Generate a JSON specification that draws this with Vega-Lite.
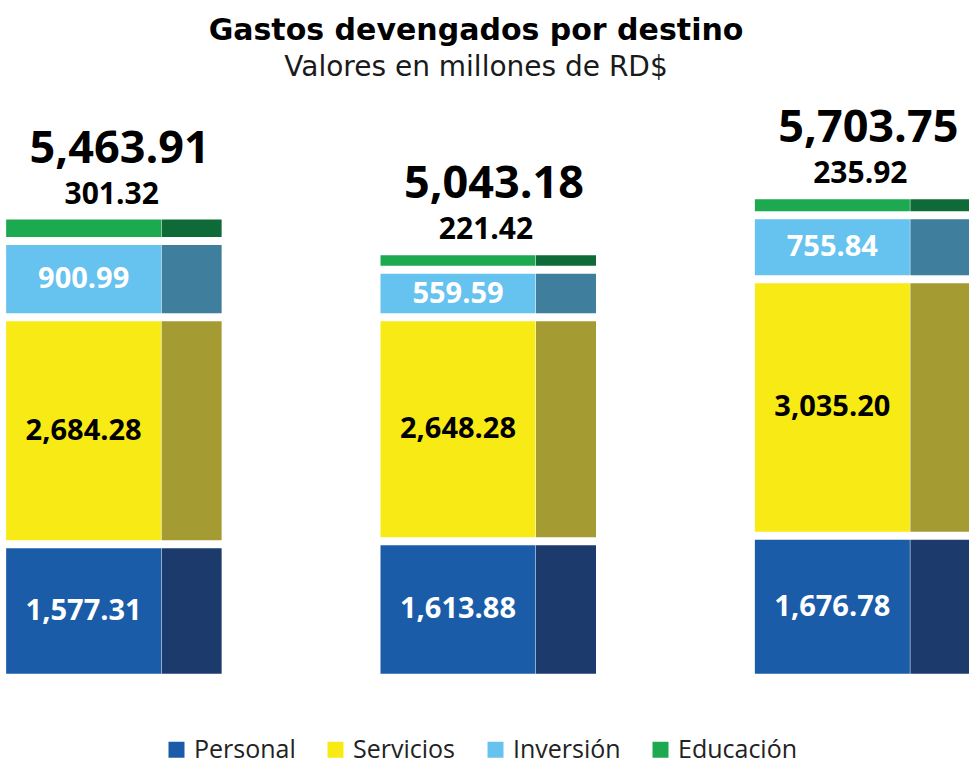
{
  "$schema": "https://vega.github.io/schema/vega-lite/v6.json",
  "autosize": {"type": "fit", "contains": "padding"},
  "width": 969,
  "height": 764,
  "padding": {"left": 0, "right": 0, "top": 16, "bottom": 2},
  "background": "white",
  "config": {"view": {"stroke": null}},
  "title": {
    "text": "Gastos devengados por destino",
    "subtitle": "Valores en millones de RD$",
    "anchor": "middle",
    "font": "DejaVu Sans",
    "fontSize": 30,
    "fontWeight": "bold",
    "color": "#000000",
    "subtitleFont": "DejaVu Sans",
    "subtitleFontSize": 28,
    "subtitleColor": "#1a1a1a",
    "subtitlePadding": 8,
    "offset": 4
  },
  "data": {
    "values": [
      {"col": "1", "cat": "Personal", "o": 1, "value": 1577.31},
      {"col": "1", "cat": "Servicios", "o": 2, "value": 2684.28},
      {"col": "1", "cat": "Inversión", "o": 3, "value": 900.99},
      {"col": "1", "cat": "Educación", "o": 4, "value": 301.32, "total": 5463.91},
      {"col": "2", "cat": "Personal", "o": 1, "value": 1613.88},
      {"col": "2", "cat": "Servicios", "o": 2, "value": 2648.28},
      {"col": "2", "cat": "Inversión", "o": 3, "value": 559.59},
      {"col": "2", "cat": "Educación", "o": 4, "value": 221.42, "total": 5043.18},
      {"col": "3", "cat": "Personal", "o": 1, "value": 1676.78},
      {"col": "3", "cat": "Servicios", "o": 2, "value": 3035.20},
      {"col": "3", "cat": "Inversión", "o": 3, "value": 755.84},
      {"col": "3", "cat": "Educación", "o": 4, "value": 235.92, "total": 5703.75}
    ]
  },
  "transform": [
    {"stack": "value", "groupby": ["col"], "sort": [{"field": "o", "order": "ascending"}], "as": ["y0", "y1"]},
    {"calculate": "(datum.y0 + datum.y1) / 2", "as": "ymid"}
  ],
  "encoding": {
    "x": {"field": "col", "type": "nominal", "axis": null, "scale": {"paddingInner": 0.457, "paddingOuter": 0}}
  },
  "resolve": {"scale": {"color": "independent"}},
  "layer": [
    {
      "mark": {"type": "bar", "width": 60, "xOffset": 90, "y2Offset": -8},
      "encoding": {
        "y": {"field": "y1", "type": "quantitative", "axis": null, "scale": {"domain": [-950, 7043], "nice": false}},
        "y2": {"field": "y0"},
        "color": {
          "field": "cat", "type": "nominal", "legend": null,
          "scale": {"domain": ["Personal", "Servicios", "Inversión", "Educación"], "range": ["#1c3a6c", "#a59b33", "#3f7e9c", "#0e6a36"]}
        }
      }
    },
    {
      "mark": {"type": "bar", "width": 155, "xOffset": -18, "y2Offset": -8},
      "encoding": {
        "y": {"field": "y1", "type": "quantitative"},
        "y2": {"field": "y0"},
        "color": {
          "field": "cat", "type": "nominal", "title": null,
          "scale": {"domain": ["Personal", "Servicios", "Inversión", "Educación"], "range": ["#1a5ca8", "#f8ea14", "#66c2ee", "#1ca94f"]},
          "legend": {
            "orient": "none", "legendX": 164, "legendY": 651, "direction": "horizontal", "symbolType": "square", "symbolSize": 256,
            "labelFont": "Open Sans", "labelFontSize": 25, "labelColor": "#222222", "columnPadding": 27,
            "symbolStrokeWidth": 0, "labelOffset": 5
          }
        }
      }
    },
    {
      "transform": [{"filter": "datum.cat !== 'Educación'"}],
      "mark": {"type": "text", "xOffset": -18, "dy": -4, "baseline": "middle", "font": "Open Sans", "fontSize": 29, "fontWeight": "bold"},
      "encoding": {
        "y": {"field": "ymid", "type": "quantitative"},
        "text": {"field": "value", "type": "quantitative", "format": ",.2f"},
        "color": {"condition": {"test": "datum.cat === 'Servicios'", "value": "#000000"}, "value": "#ffffff"}
      }
    },
    {
      "transform": [{"filter": "datum.cat === 'Educación'"}],
      "mark": {"type": "text", "xOffset": 10, "dy": -25, "baseline": "middle", "font": "Open Sans", "fontSize": 30, "fontWeight": "bold", "color": "#000000"},
      "encoding": {
        "y": {"field": "y1", "type": "quantitative"},
        "text": {"field": "value", "type": "quantitative", "format": ",.2f"}
      }
    },
    {
      "transform": [{"filter": "datum.cat === 'Educación'"}],
      "mark": {"type": "text", "xOffset": 18, "dy": -71, "baseline": "middle", "font": "Open Sans", "fontSize": 45, "fontWeight": "bold", "color": "#000000"},
      "encoding": {
        "y": {"field": "y1", "type": "quantitative"},
        "text": {"field": "total", "type": "quantitative", "format": ",.2f"}
      }
    }
  ]
}
